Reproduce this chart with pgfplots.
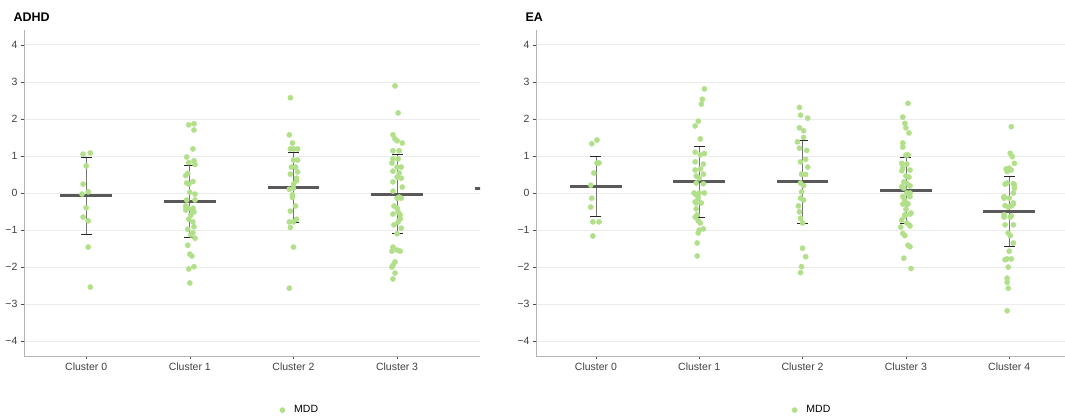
\documentclass[border=0pt]{standalone}
\usepackage{fontspec}
\setmainfont{Liberation Sans}
\usepackage{pgfplots}
\pgfplotsset{compat=1.18}
\usepackage{pgfplotstable}

\definecolor{mddgreen}{HTML}{B2DF8A}
\definecolor{meangray}{HTML}{595959}
\definecolor{gridgray}{HTML}{EBEBEB}
\definecolor{axisgray}{HTML}{B3B3B3}

% points: cluster index + jitter, value
\pgfplotstableread{
x y
-0.03 1.05
0.04 1.08
0.00 0.73
-0.03 0.24
0.02 0.03
-0.04 -0.03
0.00 -0.40
-0.03 -0.65
0.02 -0.75
0.02 -1.46
0.04 -2.54
0.99 1.84
1.04 1.87
1.04 1.70
1.03 1.19
0.97 0.97
1.04 0.87
0.99 0.82
1.05 0.77
0.98 0.53
0.96 0.47
1.03 0.31
0.97 0.27
0.99 0.24
1.00 0.02
1.05 -0.03
0.97 -0.19
1.05 -0.19
0.96 -0.35
0.98 -0.40
1.03 -0.41
1.02 -0.45
0.96 -0.46
1.04 -0.51
1.01 -0.60
0.99 -0.71
1.03 -0.78
1.04 -0.91
0.98 -0.98
1.03 -1.07
1.01 -1.13
1.05 -1.22
0.98 -1.41
1.00 -1.65
1.02 -1.70
1.04 -1.99
0.99 -2.05
1.00 -2.43
1.97 2.57
1.96 1.57
1.99 1.35
2.00 1.19
2.04 1.19
1.97 1.19
2.00 0.89
2.04 0.89
1.98 0.70
2.02 0.70
2.04 0.57
1.97 0.51
2.03 0.40
2.03 0.33
2.00 0.24
2.00 0.13
1.96 0.10
1.99 -0.05
1.99 -0.12
2.02 -0.35
1.97 -0.49
2.03 -0.71
1.96 -0.78
2.00 -0.78
1.97 -0.93
2.00 -1.46
1.96 -2.57
2.98 2.89
3.01 2.16
2.96 1.57
2.98 1.46
3.00 1.41
3.05 1.35
2.96 1.14
3.02 1.14
2.96 0.92
3.01 0.92
2.95 0.81
3.00 0.70
3.04 0.70
2.96 0.59
3.02 0.54
3.00 0.43
3.04 0.40
2.96 0.30
3.05 0.16
2.96 0.05
3.02 -0.11
3.00 -0.14
3.04 -0.14
2.97 -0.35
3.00 -0.41
3.01 -0.51
2.96 -0.57
3.03 -0.59
3.03 -0.70
3.01 -0.78
2.97 -0.86
3.04 -0.95
3.00 -1.10
2.96 -1.46
2.95 -1.57
3.00 -1.54
3.03 -1.57
2.98 -1.86
2.96 -1.95
2.95 -2.00
2.98 -2.16
2.96 -2.32
}\pointsA

\pgfplotstableread{
x m e
0 -0.08 1.03
1 -0.23 0.98
2 0.145 0.95
3 -0.03 1.06
}\meansA

\pgfplotstableread{
x m
4 0.12
}\meansAextra

\pgfplotstableread{
x y
-0.04 1.33
0.01 1.43
0.01 0.81
0.03 0.81
-0.02 0.54
-0.05 0.21
-0.04 -0.14
-0.05 -0.38
-0.03 -0.78
0.03 -0.78
-0.03 -1.16
1.05 2.81
1.03 2.53
1.02 2.40
0.99 1.94
0.96 1.81
1.01 1.46
0.96 1.10
1.01 1.03
1.05 1.07
1.04 0.78
0.96 0.84
0.96 0.62
1.01 0.65
1.04 0.51
0.97 0.46
1.00 0.40
0.97 0.27
1.04 0.25
0.95 0.00
1.00 0.00
1.05 0.00
0.97 -0.05
0.99 -0.14
1.02 -0.27
0.97 -0.27
0.96 -0.24
0.97 -0.43
0.98 -0.59
0.96 -0.65
0.99 -0.75
1.01 -0.81
1.04 -0.97
1.00 -1.00
0.99 -1.08
0.98 -1.35
0.98 -1.70
1.97 2.31
1.98 2.10
2.05 2.02
1.97 1.76
2.01 1.68
2.01 1.50
1.95 1.38
2.04 1.15
1.97 1.21
2.03 0.91
1.98 0.84
2.05 0.70
1.99 0.51
2.03 0.50
1.98 0.27
2.01 0.20
1.99 0.03
1.98 -0.14
2.01 -0.19
1.96 -0.35
1.97 -0.51
1.98 -0.68
2.00 -0.81
2.00 -1.49
2.03 -1.72
1.99 -1.99
1.98 -2.15
3.02 2.42
2.97 2.05
2.99 1.88
3.00 1.76
3.03 1.62
2.97 1.35
2.97 1.24
3.00 1.02
3.02 1.03
2.96 0.80
3.01 0.78
2.97 0.68
3.04 0.62
2.96 0.60
3.00 0.46
3.03 0.43
2.98 0.30
3.01 0.26
3.04 0.19
2.96 0.17
2.98 0.13
3.01 0.00
3.04 0.00
2.97 -0.10
3.04 -0.10
2.99 -0.19
2.97 -0.30
3.02 -0.29
3.01 -0.32
3.00 -0.44
3.05 -0.54
2.99 -0.59
3.04 -0.57
2.99 -0.62
2.96 -0.73
3.01 -0.81
3.04 -0.89
2.95 -0.92
2.97 -1.09
2.99 -1.15
3.02 -1.41
3.04 -1.45
2.98 -1.76
3.05 -2.04
4.02 1.79
4.01 1.07
4.03 0.98
4.05 0.80
3.97 0.65
4.00 0.67
4.02 0.62
3.98 0.58
3.98 0.27
3.96 0.24
4.05 0.22
4.04 0.25
4.05 0.13
4.04 0.00
3.95 -0.10
3.95 -0.14
4.00 -0.14
4.04 -0.27
4.04 -0.30
3.96 -0.34
4.02 -0.35
3.99 -0.38
3.95 -0.59
4.02 -0.62
3.95 -0.65
4.01 -0.65
4.04 -0.86
3.96 -0.86
3.99 -1.08
4.01 -1.15
4.04 -1.35
4.00 -1.57
3.98 -1.78
4.02 -1.78
3.96 -1.80
3.99 -2.00
3.98 -2.30
3.98 -2.41
3.99 -2.57
3.98 -3.18
}\pointsB

\pgfplotstableread{
x m e
0 0.17 0.81
1 0.30 0.95
2 0.30 1.12
3 0.06 0.89
4 -0.50 0.95
}\meansB

\pgfplotsset{
  panel/.style={
    scale only axis,
    height=326pt,
    ymin=-4.4, ymax=4.4,
    axis lines=left,
    axis line style={draw=axisgray, line width=0.7pt, -},
    ytick={-4,-3,-2,-1,0,1,2,3,4},
    yticklabels={−4,−3,−2,−1,0,1,2,3,4},
    xtick={0,1,2,3,4},
    xticklabels={Cluster 0,Cluster 1,Cluster 2,Cluster 3,Cluster 4},
    ymajorgrids,
    grid style={draw=gridgray, line width=0.7pt},
    tick align=outside,
    major tick length=3pt,
    tick style={draw=black!70, line width=0.6pt},
    ticklabel style={font=\fontsize{10.5}{12}\selectfont, text=black!75},
    legend style={draw=none, fill=none, font=\fontsize{10.5}{12}\selectfont,
      /tikz/every odd column/.append style={column sep=7pt}},
    legend image code/.code={\fill[mddgreen] (0pt,0pt) circle (2.6pt);},
    clip=true,
  },
  pts/.style={only marks, mark=*, mark size=2.6pt, color=mddgreen, mark options={draw=none, fill=mddgreen}},
  ebar/.style={forget plot, draw=none, mark=none,
    error bars/.cd, y dir=both, y explicit, error mark=-,
    error mark options={rotate=90, draw=black!85, line width=0.7pt, mark size=5.5pt},
    error bar style={draw=black!55, line width=0.7pt, solid}},
  mbar/.style={forget plot, draw=none, mark=none,
    error bars/.cd, x dir=both, x fixed=0.25, error mark=none,
    error bar style={draw=meangray, line width=3pt, solid}},
}

\begin{document}
\begin{tikzpicture}[x=1pt,y=1pt]
\useasboundingbox (0,0) rectangle (1065,417);

\begin{axis}[panel, at={(24pt,61pt)}, anchor=south west, width=456pt,
  xmin=-0.6, xmax=3.8,
  legend style={at={(0.605,-0.166)}, anchor=center}]
\addplot[pts] table[x=x, y=y] {\pointsA};
\addlegendentry{MDD}
\addplot[ebar] table[x=x, y=m, y error=e] {\meansA};
\addplot[mbar] table[x=x, y=m] {\meansA};
\addplot[mbar] table[x=x, y=m] {\meansAextra};
\end{axis}

\begin{axis}[panel, at={(536pt,61pt)}, anchor=south west, width=529pt,
  xmin=-0.58, xmax=4.54,
  legend style={at={(0.522,-0.166)}, anchor=center}]
\addplot[pts] table[x=x, y=y] {\pointsB};
\addlegendentry{MDD}
\addplot[ebar] table[x=x, y=m, y error=e] {\meansB};
\addplot[mbar] table[x=x, y=m] {\meansB};
\end{axis}

\node[anchor=base west, font=\bfseries\fontsize{12.5}{14}\selectfont] at (10,395) {ADHD};
\node[anchor=base west, font=\bfseries\fontsize{12.5}{14}\selectfont] at (522,395) {EA};
\end{tikzpicture}
\end{document}
